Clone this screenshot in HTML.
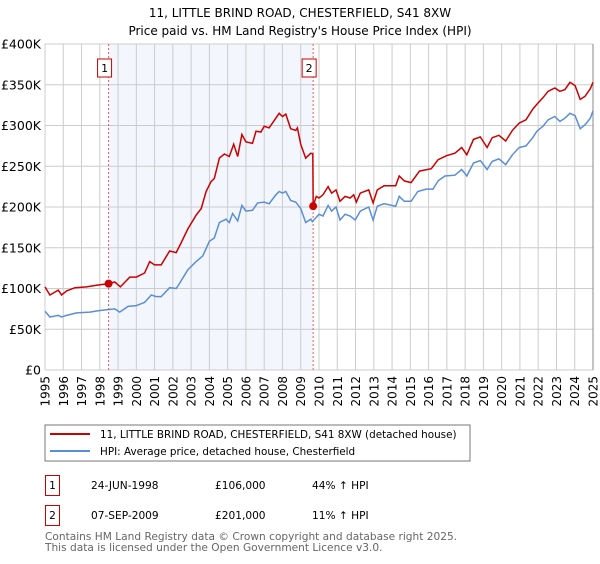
<!DOCTYPE html>
<html><head><meta charset="utf-8"><style>
body{margin:0;background:#fff;font-family:"DejaVu Sans","Liberation Sans",sans-serif;}
svg text{font-family:"DejaVu Sans","Liberation Sans",sans-serif;}
</style></head><body>
<svg id="c" width="600" height="560" xmlns="http://www.w3.org/2000/svg">
<text x="300" y="17" font-size="12" text-anchor="middle">11, LITTLE BRIND ROAD, CHESTERFIELD, S41 8XW</text>
<text x="300" y="35" font-size="12" text-anchor="middle">Price paid vs. HM Land Registry's House Price Index (HPI)</text>
<g id="plot"></g>
<rect x="45" y="425" width="425" height="36" fill="#fff" stroke="#777"/>
<line x1="50" y1="434" x2="90" y2="434" stroke="#cc0000" stroke-width="2"/>
<text x="100" y="438" font-size="10.4">11, LITTLE BRIND ROAD, CHESTERFIELD, S41 8XW (detached house)</text>
<line x1="50" y1="451" x2="90" y2="451" stroke="#5b8fd4" stroke-width="2"/>
<text x="100" y="455" font-size="10.4">HPI: Average price, detached house, Chesterfield</text>
<g font-size="10.6">
<rect x="45.5" y="475.5" width="14" height="20" fill="none" stroke="#cc0000"/>
<text x="52.5" y="489" text-anchor="middle">1</text>
<text x="91" y="489">24-JUN-1998</text>
<text x="215" y="489">£106,000</text>
<text x="312" y="489">44% ↑ HPI</text>
<rect x="45.5" y="505.5" width="14" height="20" fill="none" stroke="#cc0000"/>
<text x="52.5" y="519" text-anchor="middle">2</text>
<text x="91" y="519">07-SEP-2009</text>
<text x="215" y="519">£201,000</text>
<text x="312" y="519">11% ↑ HPI</text>
</g>
<text x="45" y="540" font-size="10.6" fill="#666">Contains HM Land Registry data © Crown copyright and database right 2025.</text>
<text x="45" y="551" font-size="10.6" fill="#666">This data is licensed under the Open Government Licence v3.0.</text>
</svg>
<script>
const yTicks=[0,50,100,150,200,250,300,350,400];
const yTickLabels=["£0","£50K","£100K","£150K","£200K","£250K","£300K","£350K","£400K"];
const xYears=[1995,1996,1997,1998,1999,2000,2001,2002,2003,2004,2005,2006,2007,2008,2009,2010,2011,2012,2013,2014,2015,2016,2017,2018,2019,2020,2021,2022,2023,2024,2025];
const saleDates=[1998.48,2009.68];
const salePrices=[106,201];
const saleLabels=["1","2"];
const hpiDates=[1995.0,1995.27,1995.73,1995.91,1996.18,1996.73,1997.45,1998.0,1998.82,1999.09,1999.55,2000.0,2000.45,2000.82,2001.09,2001.36,2001.82,2002.18,2002.36,2002.82,2003.27,2003.64,2004.0,2004.27,2004.55,2004.91,2005.09,2005.27,2005.55,2005.78,2006.0,2006.36,2006.64,2007.0,2007.27,2007.64,2007.82,2008.0,2008.18,2008.45,2008.73,2009.0,2009.27,2009.55,2009.64,2010.0,2010.22,2010.5,2010.69,2010.93,2011.15,2011.43,2011.7,2011.98,2012.26,2012.72,2012.96,2013.19,2013.56,2014.2,2014.39,2014.67,2015.04,2015.41,2015.87,2016.24,2016.52,2016.89,2017.44,2017.81,2018.09,2018.46,2018.83,2019.2,2019.48,2019.85,2020.22,2020.59,2020.96,2021.33,2021.7,2021.93,2022.26,2022.54,2022.91,2023.19,2023.46,2023.74,2024.02,2024.3,2024.57,2024.85,2025.0];
const hpiValues=[72,65,67,65,67,70,71,73,75,71,78,79,83,92,90,90,101,100,106,123,133,140,158,162,181,185,181,192,183,202,195,196,205,206,204,215,219,217,219,208,206,198,181,185,182,191,189,202,195,200,184,191,189,184,195,200,184,201,204,201,213,207,207,219,222,222,232,238,239,246,238,254,257,246,256,259,252,264,273,275,285,293,299,307,311,305,309,315,312,296,301,309,318];
const propDates=[1995.0,1995.27,1995.73,1995.91,1996.18,1996.64,1997.27,1997.82,1998.48,1998.82,1999.13,1999.64,2000.0,2000.45,2000.73,2001.0,2001.36,2001.82,2002.18,2002.45,2002.82,2003.27,2003.55,2003.82,2004.09,2004.27,2004.55,2004.82,2005.09,2005.33,2005.55,2005.78,2006.0,2006.36,2006.55,2006.82,2007.0,2007.27,2007.82,2008.0,2008.18,2008.45,2008.73,2008.82,2009.0,2009.27,2009.55,2009.66,2009.68,2009.85,2010.0,2010.22,2010.5,2010.69,2010.93,2011.15,2011.43,2011.7,2011.9,2012.04,2012.26,2012.72,2012.96,2013.19,2013.56,2014.2,2014.39,2014.67,2015.04,2015.5,2016.15,2016.52,2016.98,2017.44,2017.81,2018.09,2018.46,2018.83,2019.2,2019.48,2019.85,2020.22,2020.59,2020.96,2021.33,2021.7,2021.93,2022.26,2022.54,2022.91,2023.19,2023.46,2023.74,2024.02,2024.3,2024.57,2024.85,2025.0];
const propValues=[102,92,98,92,97,101,102,104,106,108,102,114,114,119,133,129,129,146,144,156,173,190,198,219,231,235,260,265,262,277,262,289,280,278,293,292,299,297,315,311,314,296,294,297,277,260,266,265,201,213,211,215,225,217,221,207,213,211,215,206,217,221,205,221,226,226,238,232,230,244,247,258,263,266,273,264,283,286,273,285,288,281,294,303,307,320,326,334,342,346,342,344,353,349,332,336,345,353];

const NS="http://www.w3.org/2000/svg";
const L=45,R=593,T=44,B=370;
const xs=y=>L+(y-1995)/(2025-1995)*(R-L);
const ys=v=>B-v/400*(B-T);
const g=document.getElementById('plot');
function mk(t,a){const e=document.createElementNS(NS,t);for(const k in a)e.setAttribute(k,a[k]);return e;}
let r=mk('rect',{x:xs(saleDates[0]),y:T,width:xs(saleDates[1])-xs(saleDates[0]),height:B-T,fill:'#f3f6fd'});


g.appendChild(r);
xYears.forEach(yr=>{
  const l=mk('line',{x1:xs(yr),x2:xs(yr),y1:T,y2:B,stroke:'#cccccc','stroke-width':1});
  
  
  g.appendChild(l);
  const t=mk('text',{x:0,y:0,'font-size':12,'text-anchor':'end',transform:`translate(${xs(yr)+4.5},${B+6}) rotate(-90)`});
  t.textContent=yr;
  
  
  g.appendChild(t);
});
yTicks.forEach((v,i)=>{
  const l=mk('line',{x1:L,x2:R,y1:ys(v),y2:ys(v),stroke:'#cccccc','stroke-width':1});
  
  
  g.appendChild(l);
  const t=mk('text',{x:41,y:ys(v)+4.5,'font-size':12.5,'text-anchor':'end'});
  t.textContent=yTickLabels[i];
  
  
  g.appendChild(t);
});
const edge=mk('line',{x1:R,x2:R,y1:T,y2:B,stroke:'#888','stroke-width':1});


g.appendChild(edge);
saleDates.forEach((d,i)=>{
  const l=mk('line',{x1:xs(d),x2:xs(d),y1:T,y2:B,stroke:'#e06060','stroke-width':1,'stroke-dasharray':'2,2'});
  
  
  g.appendChild(l);
  const b=mk('rect',{x:xs(d)-11,y:59,width:14,height:18,fill:'#fff',stroke:'#cc0000'});
  
  
  g.appendChild(b);
  const t=mk('text',{x:xs(d)-4,y:72,'font-size':11,'text-anchor':'middle'});
  t.textContent=saleLabels[i];
  
  
  g.appendChild(t);
});
function path(ds,vs){return ds.map((d,i)=>(i?'L':'M')+xs(d).toFixed(1)+','+ys(vs[i]).toFixed(1)).join(' ');}
const hp=mk('path',{d:path(hpiDates,hpiValues),fill:'none',stroke:'#5b8fd4','stroke-width':1.5});


g.appendChild(hp);
const pp=mk('path',{d:path(propDates,propValues),fill:'none',stroke:'#cc0000','stroke-width':1.5});


g.appendChild(pp);
saleDates.forEach((d,i)=>{
  const c=mk('circle',{cx:xs(d),cy:ys(salePrices[i]),r:4,fill:'#cc0000'});
  
  
  g.appendChild(c);
});
</script>
</body></html>
